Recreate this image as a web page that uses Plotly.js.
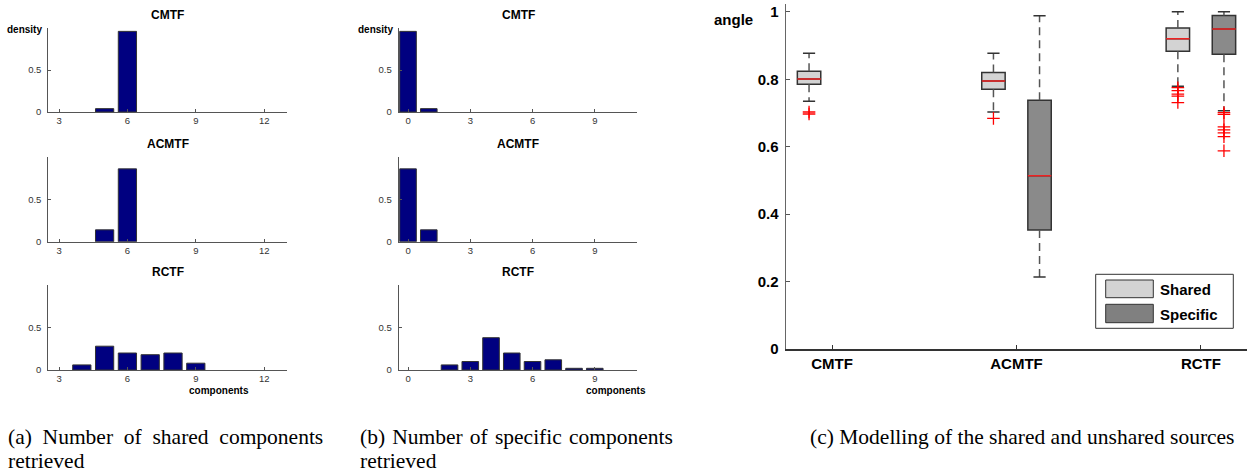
<!DOCTYPE html>
<html><head><meta charset="utf-8">
<script src="https://cdn.plot.ly/plotly-3.0.1.min.js"></script>
<style>html,body{margin:0;padding:0;background:#fff}#chart{width:1247px;height:473px}</style>
</head><body><div id="chart"></div>
<script>
// ---------- (a) number of shared components ----------
const sharedBins = [3, 4, 5, 6, 7, 8, 9, 10, 11, 12];
const cmtfSharedDensity  = [0, 0, 0.04, 0.96, 0, 0, 0, 0, 0, 0];
const acmtfSharedDensity = [0, 0, 0.14, 0.86, 0, 0, 0, 0, 0, 0];
const rctfSharedDensity  = [0, 0.06, 0.28, 0.20, 0.18, 0.20, 0.08, 0, 0, 0];
const sharedTicks = [3, 6, 9, 12];

// ---------- (b) number of specific components ----------
const specificBins = [0, 1, 2, 3, 4, 5, 6, 7, 8, 9, 10];
const cmtfSpecificDensity  = [0.96, 0.04, 0, 0, 0, 0, 0, 0, 0, 0, 0];
const acmtfSpecificDensity = [0.86, 0.14, 0, 0, 0, 0, 0, 0, 0, 0, 0];
const rctfSpecificDensity  = [0, 0, 0.06, 0.10, 0.38, 0.20, 0.10, 0.12, 0.02, 0.02, 0];
const specificTicks = [0, 3, 6, 9];
const densityTicks = [0, 0.5];
const densityTickText = ['0', '0.5'];

// ---------- (c) angle boxplots ----------
const methods = ['CMTF', 'ACMTF', 'RCTF'];
const sharedQ1     = [0.785, 0.770, 0.883];
const sharedMedian = [0.801, 0.795, 0.920];
const sharedQ3     = [0.824, 0.820, 0.952];
const sharedLow    = [0.735, 0.703, 0.779];
const sharedHigh   = [0.877, 0.877, 1.000];
const sharedOutliers = [[0.703, 0.697], [0.684], [0.775, 0.766, 0.756, 0.750, 0.731]];

const specificMethods = ['ACMTF', 'RCTF'];
const specificQ1     = [0.353, 0.874];
const specificMedian = [0.514, 0.949];
const specificQ3     = [0.738, 0.989];
const specificLow    = [0.214, 0.707];
const specificHigh   = [0.988, 1.000];
const specificOutliers = [[], [0.701, 0.696, 0.659, 0.650, 0.641, 0.630, 0.588]];

const angleTicks = [0, 0.2, 0.4, 0.6, 0.8, 1];
const angleTickText = ['0', '0.2', '0.4', '0.6', '0.8', '1'];

// ---------- helpers ----------
const W = 1247, H = 473;
const PX = v => v / W, PY = v => 1 - v / H;
const SANS = 'Liberation Sans, Arial, Helvetica, sans-serif';
const SERIF = 'Liberation Serif, Times New Roman, serif';
const BAR = '#000080';

const traces = [];
const annotations = [];
const layout = {
  width: W, height: H, margin: {l: 0, r: 0, t: 0, b: 0},
  paper_bgcolor: '#fff', plot_bgcolor: 'rgba(0,0,0,0)',
  showlegend: false, shapes: [], annotations: annotations
};

function barTrace(bins, dens, ax) {
  const xs = [], ys = [];
  bins.forEach((b, i) => { if (dens[i] > 0) { xs.push(b); ys.push(dens[i]); } });
  return {type: 'bar', x: xs, y: ys, width: 0.8, xaxis: 'x' + ax, yaxis: 'y' + ax,
    marker: {color: BAR, line: {color: '#333', width: 1}}, hoverinfo: 'skip'};
}
function smallX(range, ticks, dom, anchor) {
  return {domain: dom, range: range, tickvals: ticks, ticks: 'inside', ticklen: 3, tickcolor: '#555',
    showline: true, linecolor: '#555', linewidth: 1, showgrid: false, zeroline: false,
    tickfont: {family: SANS, size: 9.5, color: '#333'}, anchor: anchor, fixedrange: true};
}
function smallY(dom, anchor) {
  return {domain: dom, range: [0, 1], tickvals: densityTicks, ticktext: densityTickText, ticks: 'inside',
    ticklen: 3, tickcolor: '#555', showline: true, linecolor: '#555', linewidth: 1, showgrid: false,
    zeroline: false, tickfont: {family: SANS, size: 9.5, color: '#333'}, anchor: anchor,
    ticklabelstandoff: 4, fixedrange: true};
}

const rowsY = [[PY(112), PY(28)], [PY(241.7), PY(157)], [PY(370), PY(285)]];
const colA = [PX(48.3), PX(287)];
const colB = [PX(398.7), PX(637.3)];
const rangeA = [2.53, 13.0];
const rangeB = [-0.45, 11.05];

const sharedSets = [cmtfSharedDensity, acmtfSharedDensity, rctfSharedDensity];
const specificSets = [cmtfSpecificDensity, acmtfSpecificDensity, rctfSpecificDensity];

for (let r = 0; r < 3; r++) {
  const a = r + 1, b = r + 4;
  const sa = a === 1 ? '' : String(a);
  traces.push(barTrace(sharedBins, sharedSets[r], sa));
  traces.push(barTrace(specificBins, specificSets[r], String(b)));
  layout['xaxis' + sa] = smallX(rangeA, sharedTicks, colA, 'y' + sa);
  layout['yaxis' + sa] = smallY(rowsY[r], 'x' + sa);
  layout['xaxis' + b] = smallX(rangeB, specificTicks, colB, 'y' + b);
  layout['yaxis' + b] = smallY(rowsY[r], 'x' + b);
  [sa, String(b)].forEach(ax => {
    annotations.push({xref: 'x' + ax + ' domain', yref: 'y' + ax + ' domain', x: 0.5, y: 1, yshift: 13,
      xanchor: 'center', yanchor: 'middle', showarrow: false, text: methods[r],
      font: {family: SANS, size: 12, color: '#000', weight: 'bold'}});
    if (r === 0) {
      annotations.push({xref: 'x' + ax + ' domain', yref: 'y' + ax + ' domain', x: 0, y: 1, xshift: -4, yshift: -1,
        xanchor: 'right', yanchor: 'middle', showarrow: false, text: 'density',
        font: {family: SANS, size: 10, color: '#000', weight: 'bold'}});
    }
    if (r === 2) {
      annotations.push({xref: 'x' + ax, yref: 'y' + ax + ' domain', x: 10, y: 0, yshift: -20,
        xanchor: 'center', yanchor: 'middle', showarrow: false, text: 'components',
        font: {family: SANS, size: 10, color: '#000', weight: 'bold'}});
    }
  });
}

// ---------- boxplots ----------
const BOXW = 0.127, OFF = 0.125, CAP = 0.033;
function addBoxes(names, q1, med, q3, lo, hi, outl, offset, fill) {
  const pos = names.map(n => methods.indexOf(n) + 1 + offset);
  traces.push({type: 'box', x: pos, q1: q1, median: med, q3: q3, lowerfence: q1, upperfence: q3,
    width: BOXW, fillcolor: fill, line: {color: '#333', width: 1.5}, whiskerwidth: 0,
    boxpoints: false, xaxis: 'x7', yaxis: 'y7', hoverinfo: 'skip'});
  const wx = [], wy = [], cx = [], cy = [], mx = [], my = [], ox = [], oy = [];
  pos.forEach((p, i) => {
    wx.push(p, p, null, p, p, null); wy.push(q3[i], hi[i], null, q1[i], lo[i], null);
    cx.push(p - CAP, p + CAP, null, p - CAP, p + CAP, null); cy.push(hi[i], hi[i], null, lo[i], lo[i], null);
    mx.push(p - BOXW / 2, p + BOXW / 2, null); my.push(med[i], med[i], null);
    outl[i].forEach(v => { ox.push(p); oy.push(v); });
  });
  traces.push({type: 'scatter', mode: 'lines', x: wx, y: wy, xaxis: 'x7', yaxis: 'y7',
    line: {color: '#555', width: 1.5, dash: '8px,5px'}, hoverinfo: 'skip'});
  traces.push({type: 'scatter', mode: 'lines', x: cx, y: cy, xaxis: 'x7', yaxis: 'y7',
    line: {color: '#333', width: 1.5}, hoverinfo: 'skip'});
  traces.push({type: 'scatter', mode: 'lines', x: mx, y: my, xaxis: 'x7', yaxis: 'y7',
    line: {color: '#ee2222', width: 1.5}, hoverinfo: 'skip'});
  traces.push({type: 'scatter', mode: 'markers', x: ox, y: oy, xaxis: 'x7', yaxis: 'y7',
    marker: {symbol: 'cross-thin', size: 9, line: {color: '#ff0000', width: 1.3}}, hoverinfo: 'skip'});
}
addBoxes(methods, sharedQ1, sharedMedian, sharedQ3, sharedLow, sharedHigh, sharedOutliers, -OFF, '#d3d3d3');
addBoxes(specificMethods, specificQ1, specificMedian, specificQ3, specificLow, specificHigh, specificOutliers, OFF, '#8a8a8a');

layout.xaxis7 = {domain: [PX(786), 1], range: [0.75, 3.25], tickvals: [1, 2, 3], ticktext: methods,
  ticks: 'inside', ticklen: 4, tickcolor: '#333', showline: true, linecolor: '#333', linewidth: 1.5,
  showgrid: false, zeroline: false, anchor: 'y7', fixedrange: true,
  tickfont: {family: SANS, size: 15, color: '#000', weight: 'bold'}};
layout.yaxis7 = {domain: [PY(349.2), PY(4)], range: [0, 1.023], tickvals: angleTicks, ticktext: angleTickText,
  ticks: 'inside', ticklen: 4, tickcolor: '#555', showline: true, linecolor: '#666', linewidth: 1.5,
  showgrid: false, zeroline: false, anchor: 'x7', fixedrange: true, ticklabelstandoff: 3,
  tickfont: {family: SANS, size: 15, color: '#000', weight: 'bold'}};

annotations.push({xref: 'paper', yref: 'paper', x: PX(733.7), y: PY(19), xanchor: 'center', yanchor: 'middle',
  showarrow: false, text: 'angle', font: {family: SANS, size: 15, color: '#000', weight: 'bold'}});

// legend (drawn as a framed key)
layout.shapes.push({type: 'rect', xref: 'paper', yref: 'paper', x0: PX(1095.7), x1: PX(1233.3), y0: PY(328.3), y1: PY(274.3),
  line: {color: '#333', width: 1}, fillcolor: '#fff'});
layout.shapes.push({type: 'rect', xref: 'paper', yref: 'paper', x0: PX(1105.7), x1: PX(1153.3), y0: PY(297.7), y1: PY(280),
  line: {color: '#333', width: 1}, fillcolor: '#d3d3d3'});
layout.shapes.push({type: 'rect', xref: 'paper', yref: 'paper', x0: PX(1105.7), x1: PX(1153.3), y0: PY(322.7), y1: PY(304.3),
  line: {color: '#333', width: 1}, fillcolor: '#808080'});
[['Shared', 289.5], ['Specific', 314]].forEach(([t, y]) => annotations.push({xref: 'paper', yref: 'paper',
  x: PX(1157.5), y: PY(y), xanchor: 'left', yanchor: 'middle', showarrow: false, text: t,
  font: {family: SANS, size: 15, color: '#000', weight: 'bold'}}));

// captions
const NB = '\u00a0';
const gapA = ' ' + NB;
const gapB = ' \u200A';
const capFont = {family: SERIF, size: 21.5, color: '#000'};
[[6, ['(a)', 'Number', 'of', 'shared', 'components'].join(gapA)],
 [358, ['(b)', 'Number', 'of', 'specific', 'components'].join(gapB)]].forEach(([x, t]) => {
  annotations.push({xref: 'paper', yref: 'paper', x: PX(x), y: PY(437), xanchor: 'left', yanchor: 'middle',
    showarrow: false, text: t, font: capFont});
  annotations.push({xref: 'paper', yref: 'paper', x: PX(x), y: PY(461), xanchor: 'left', yanchor: 'middle',
    showarrow: false, text: 'retrieved', font: capFont});
});
annotations.push({xref: 'paper', yref: 'paper', x: PX(1022), y: PY(437), xanchor: 'center', yanchor: 'middle',
  showarrow: false, text: '(c) Modelling of the shared and unshared sources', font: capFont});

Plotly.newPlot('chart', traces, layout, {staticPlot: true, displayModeBar: false});
</script></body></html>
